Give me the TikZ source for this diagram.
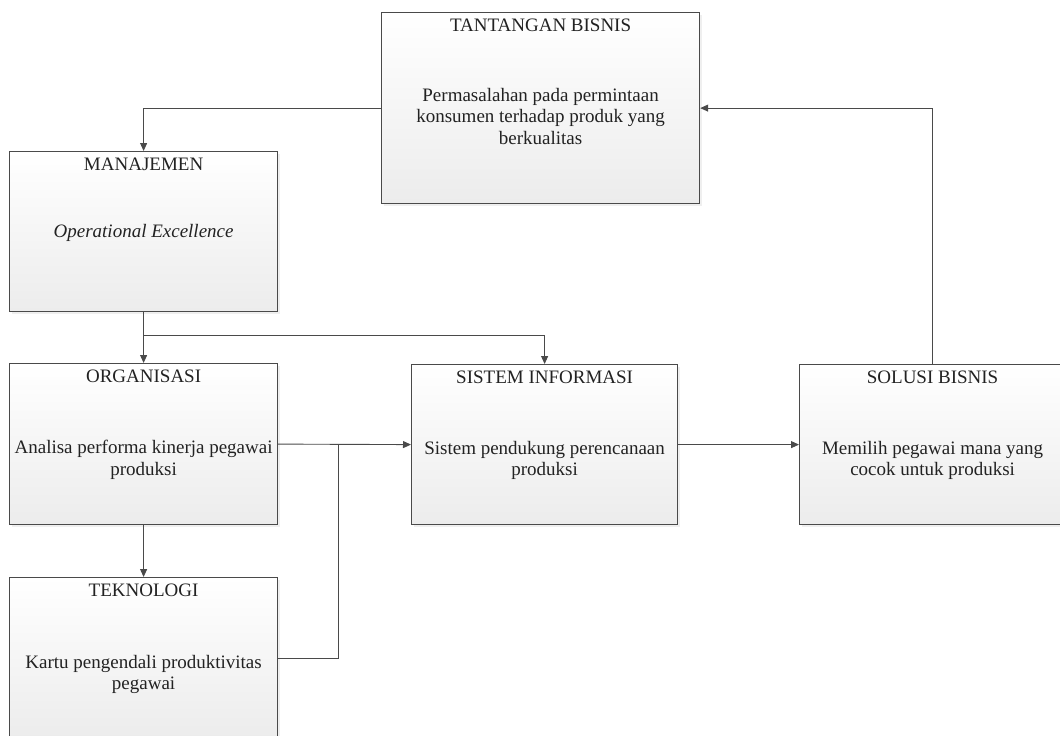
\documentclass[tikz,border=0pt]{standalone}
\usepackage{fontspec}
\setmainfont{Liberation Serif}
\usetikzlibrary{arrows.meta,shadows}
\definecolor{garis}{HTML}{4A4A4A}
\definecolor{abu}{HTML}{ECECEC}
\definecolor{teks}{HTML}{222222}
\begin{document}
\begin{tikzpicture}[x=1pt,y=-1pt,
  kotak/.style={draw=garis, line width=1.2pt, top color=white, bottom color=abu, inner sep=0pt, anchor=north west,
    drop shadow={shadow xshift=2pt, shadow yshift=-2pt, opacity=0.12}},
  judul/.style={anchor=north, inner sep=0pt, text=teks, font=\fontsize{19}{21.5}\selectfont},
  isi/.style={anchor=north, inner sep=0pt, align=center, text=teks, font=\fontsize{19}{21.5}\selectfont},
  panah/.style={draw=garis, line width=0.9pt, -{Triangle[length=8pt,width=7pt]}},
  garisan/.style={draw=garis, line width=0.9pt}]
\useasboundingbox (0,0) rectangle (1060,736);
\clip (0,0) rectangle (1060,736);
\fill[white] (0,0) rectangle (1060,736);

\node [kotak, minimum width=318pt, minimum height=191pt] (tan) at (381,12) {};
\node [kotak, minimum width=268pt, minimum height=160pt] (man) at (9,151) {};
\node [kotak, minimum width=268pt, minimum height=161pt] (org) at (9,363) {};
\node [kotak, minimum width=268pt, minimum height=161pt] (tek) at (9,577) {};
\node [kotak, minimum width=266pt, minimum height=160pt] (sis) at (411,364) {};
\node [kotak, minimum width=266pt, minimum height=160pt] (sol) at (799,364) {};

\node [judul] at ([yshift=-7pt]tan.north) {TANTANGAN BISNIS};
\node [isi] at ([yshift=-76pt]tan.north) {Permasalahan pada permintaan\\konsumen terhadap produk yang\\berkualitas};
\node [judul] at ([yshift=-7pt]man.north) {MANAJEMEN};
\node [isi] at ([yshift=-73pt]man.north) {\itshape Operational Excellence};
\node [judul] at ([yshift=-7pt]org.north) {ORGANISASI};
\node [isi] at ([yshift=-77pt]org.north) {Analisa performa kinerja pegawai\\produksi};
\node [judul] at ([yshift=-7pt]tek.north) {TEKNOLOGI};
\node [isi] at ([yshift=-78pt]tek.north) {Kartu pengendali produktivitas\\pegawai};
\node [judul] at ([yshift=-7pt]sis.north) {SISTEM INFORMASI};
\node [isi] at ([yshift=-77pt]sis.north) {Sistem pendukung perencanaan\\produksi};
\node [judul] at ([yshift=-7pt]sol.north) {SOLUSI BISNIS};
\node [isi] at ([yshift=-77pt]sol.north) {Memilih pegawai mana yang\\cocok untuk produksi};

\coordinate (c1) at (143,335);
\coordinate (c2) at (338,0);

\draw [panah] (tan.west) -| (man.north);
\draw [panah] (man.south) -- (org.north);
\draw [panah] (c1) -| (sis.north);
\draw [panah] (org.east) -- (sis.west);
\draw [garisan] (tek.east) -| (c2 |- org.east);
\draw [panah] (org.south) -- (tek.north);
\draw [panah] (sis.east) -- (sol.west);
\draw [panah] (sol.north) |- (tan.east);
\end{tikzpicture}
\end{document}
